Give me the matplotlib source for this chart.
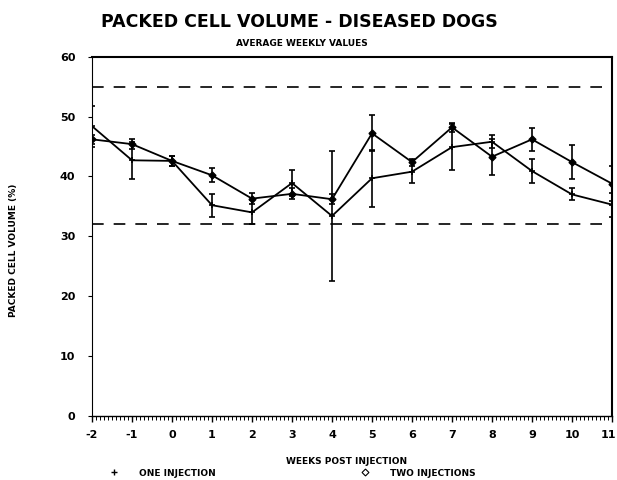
import matplotlib
matplotlib.use("Agg")
import matplotlib.pyplot as plt
import matplotlib.transforms as mtransforms
from matplotlib.ticker import MultipleLocator
from matplotlib.lines import Line2D

weeks = [-2, -1, 0, 1, 2, 3, 4, 5, 6, 7, 8, 9, 10, 11]
one_injection = [48.4, 42.7, 42.6, 35.2, 34.0, 38.9, 33.4, 39.7, 40.8, 44.9, 45.8, 40.9, 37.0, 35.3]
one_err = [3.4, 3.1, 0.9, 1.9, 2.0, 2.1, 10.8, 4.8, 1.9, 3.8, 1.1, 2.0, 1.0, 2.0]
two_injections = [46.2, 45.4, 42.6, 40.2, 36.3, 37.1, 36.2, 47.2, 42.4, 48.2, 43.3, 46.2, 42.4, 38.8]
two_err = [0.8, 0.8, 0.9, 1.2, 0.9, 0.9, 0.8, 3.0, 0.6, 0.7, 3.0, 1.9, 2.9, 2.9]
normal_range = [32, 55]
yticks = [0, 10, 20, 30, 40, 50, 60]

FAM = ['DejaVu Sans']
plt.rcParams['font.family'] = FAM
plt.rcParams['axes.unicode_minus'] = False

fig = plt.figure(figsize=(6.17, 4.8), dpi=100)
ax = fig.add_axes([92/617, 1-416/480, (612-92)/617, (416-56.7)/480])

ax.errorbar(weeks, one_injection, yerr=one_err, color='black', lw=1.3,
            elinewidth=1.2, capsize=2.5, capthick=1.2, marker='+', ms=5, mew=1.2)
ax.errorbar(weeks, two_injections, yerr=two_err, color='black', lw=1.3,
            elinewidth=1.2, capsize=2.5, capthick=1.2, marker='D', ms=3.5,
            mfc='black', mec='black')
for v in normal_range:
    ax.axhline(v, color='black', lw=1.2, dashes=(7, 6))

ax.set_xlim(-2, 11)
ax.set_ylim(0, 60)
ax.set_xticks(weeks)
ax.set_yticks(yticks)
ax.xaxis.set_minor_locator(MultipleLocator(0.1))
ax.tick_params(axis='x', which='major', direction='out', length=4, width=1, pad=6,
               labelsize=8)
ax.tick_params(axis='x', which='minor', direction='out', length=3, width=0.7)
ax.tick_params(axis='y', which='major', direction='out', length=3, width=0.8, pad=9,
               labelsize=8)
for lab in ax.get_xticklabels() + ax.get_yticklabels():
    lab.set_fontweight('bold')
last = ax.get_xticklabels()[-1]
last.set_horizontalalignment('right')
last.set_transform(last.get_transform() + mtransforms.ScaledTranslation(4/100, 0, fig.dpi_scale_trans))

ax.spines['left'].set_linewidth(0.8)
ax.spines['left'].set_linestyle((0, (4, 1)))
ax.spines['bottom'].set_linewidth(1.0)
ax.spines['top'].set_linewidth(1.5)
ax.spines['right'].set_linewidth(1.5)

ax.set_xlabel('WEEKS POST INJECTION', fontsize=6.5, fontweight='bold')
ax.xaxis.set_label_coords(0.49, -0.115)
ax.set_ylabel('PACKED CELL VOLUME (%)', fontsize=6.5, fontweight='bold')
ax.yaxis.set_label_coords(-0.142, 0.46)

fig.text(299/617, 1-22/480, 'PACKED CELL VOLUME - DISEASED DOGS', ha='center', va='center',
         fontsize=12.5, fontweight='bold')
fig.text(302/617, 1-43/480, 'AVERAGE WEEKLY VALUES', ha='center', va='center',
         fontsize=6.5, fontweight='bold')

handles = [Line2D([], [], ls='none', marker='+', color='black', ms=4, mew=1),
           Line2D([], [], ls='none', marker='D', mfc='white', mec='black', ms=3.5, mew=0.8)]
fig.legend(handles, ['ONE INJECTION', 'TWO INJECTIONS'], ncol=2, frameon=False,
           loc='center left', bbox_to_anchor=(101/617, 1-473/480),
           prop={'weight': 'bold', 'size': 6.5, 'family': FAM},
           handlelength=1, handletextpad=2.3, columnspacing=16)

fig.savefig('out.png', dpi=100)
